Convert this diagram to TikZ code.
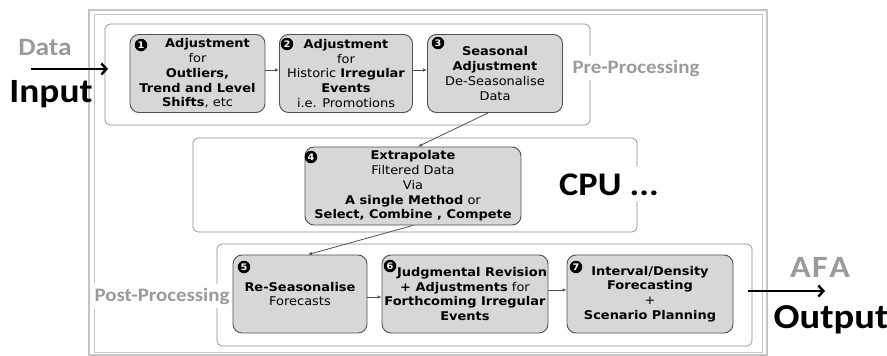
\documentclass[tikz,border=0pt]{standalone}
\usepackage{fontspec}
\newfontfamily\boxfont[FakeStretch=1.08]{DejaVu Sans}
\newfontfamily\tagfont[FakeStretch=1.1]{Carlito}
\usetikzlibrary{arrows.meta}
\definecolor{stagefill}{HTML}{D7D7D7}
\definecolor{stageedge}{HTML}{505050}
\definecolor{groupedge}{HTML}{8C8C8C}
\definecolor{tagsgray}{HTML}{9A9A9A}
\definecolor{framegray}{HTML}{C4C4C4}

\begin{document}
\begin{tikzpicture}[x=1pt,y=-1pt,
  stagebox/.style={draw=stageedge,fill=stagefill,line width=0.9pt,rounded corners=9pt,align=center,inner sep=0pt,minimum height=78pt,font=\boxfont\fontsize{12}{14.8}\selectfont},
  groupbox/.style={draw=groupedge,line width=0.7pt,rounded corners=5pt,inner sep=0pt},
  badge/.style={circle,fill=black,text=white,inner sep=0pt,minimum size=12.5pt,font=\boxfont\bfseries\fontsize{9}{9}\selectfont},
  link/.style={-{Latex[length=4pt,width=3.5pt]},line width=0.8pt,stageedge},
  flow/.style={-{Straight Barb[length=5pt,width=11pt]},line width=2.4pt},
  sidetag/.style={font=\tagfont\bfseries\fontsize{19}{19}\selectfont,text=tagsgray,fill=white,inner sep=4pt},
  bigtag/.style={font=\tagfont\bfseries\fontsize{#1}{#1}\selectfont,anchor=base,inner sep=0pt}]
\useasboundingbox (0,0) rectangle (887,356);

\draw[framegray,line width=1.2pt] (89,10) rectangle (767,355);
\draw[framegray,line width=1pt] (94,14) rectangle (762,352);

\node[groupbox,minimum width=485pt,minimum height=101pt] (prebox) at (347.5,74.5) {};
\node[groupbox,minimum width=444pt,minimum height=94pt] (cpubox) at (415,185) {};
\node[groupbox,minimum width=535pt,minimum height=102pt] (postbox) at (484.5,295) {};

\node[sidetag] (pretag) at (636,68) {Pre-Processing};
\node[sidetag] (posttag) at (162,296) {Post-Processing};
\node[bigtag=33,fill=white,inner sep=6pt] (cputag) at (609,195) {CPU ...};

\node[stagebox,minimum width=135pt] (adjout) at (197.5,73.5) {\hspace*{20pt}\textbf{Adjustment}\\for\\\textbf{Outliers,}\\\textbf{Trend and Level}\\\textbf{Shifts}, etc};
\node[stagebox,minimum width=133pt] (adjirr) at (346,73.5) {\textbf{Adjustment}\\for\\Historic \textbf{Irregular}\\\textbf{Events}\\i.e. Promotions};
\node[stagebox,minimum width=135pt] (deseas) at (495,73.5) {\textbf{Seasonal}\\\textbf{Adjustment}\\De-Seasonalise\\Data};
\node[stagebox,minimum width=216pt] (extrap) at (413,186) {\textbf{Extrapolate}\\Filtered Data\\Via\\\textbf{A single Method} or\\\textbf{Select, Combine , Compete}};
\node[stagebox,minimum width=134pt] (reseas) at (300,294) {\textbf{Re-Seasonalise}\\Forecasts};
\node[stagebox,minimum width=166pt] (judge) at (465,294) {\hspace*{14pt}\textbf{Judgmental Revision}\\\textbf{+ Adjustments} for\\\textbf{Forthcoming Irregular}\\\textbf{Events}};
\node[stagebox,minimum width=166pt] (interval) at (650,294) {\textbf{Interval/Density}\\\textbf{Forecasting}\\+\\\textbf{Scenario Planning}};

\node[badge] (b1) at (141,45) {1};
\node[badge] (b2) at (287,44) {2};
\node[badge] (b3) at (438,43) {3};
\node[badge] (b4) at (311,157) {4};
\node[badge] (b5) at (244,267) {5};
\node[badge] (b6) at (390,266) {6};
\node[badge] (b7) at (576,267) {7};

\draw[link] ([yshift=3.5pt]adjout.east) -- ([yshift=3.5pt]adjirr.west);
\draw[link] ([yshift=3.5pt]adjirr.east) -- ([yshift=3.5pt]deseas.west);
\draw[link] ([xshift=-7pt]deseas.south) -- ([xshift=5pt]extrap.north);
\draw[link] (extrap.south) -- ([xshift=8pt]reseas.north);
\draw[link] ([yshift=-3pt]reseas.east) -- ([yshift=-3pt]judge.west);
\draw[link] ([yshift=4pt]judge.east) -- ([yshift=4pt]interval.west);

\node[bigtag=25,text=tagsgray] (datatag) at (45,55) {Data};
\node[bigtag=34] (inputtag) at (51,102) {Input};
\node[bigtag=31,text=tagsgray] (afatag) at (820,277) {A\hspace{1.5pt}F\hspace{1.5pt}A};
\node[bigtag=35] (outputtag) at (831,328) {Output};

\coordinate (inStart) at (31,69);
\coordinate (inEnd) at (108,69);
\coordinate (outStart) at (748,291);
\coordinate (outEnd) at (825,291);
\draw[flow] (inStart) -- (inEnd);
\draw[flow] (outStart) -- (outEnd);
\end{tikzpicture}
\end{document}
